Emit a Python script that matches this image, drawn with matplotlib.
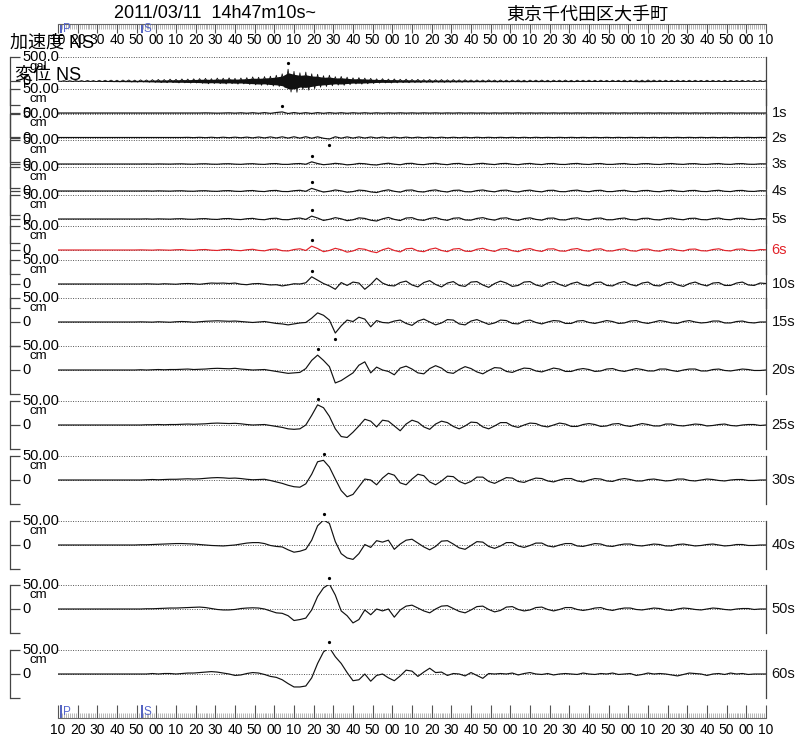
import numpy as np
import matplotlib
matplotlib.use('Agg')
import matplotlib.pyplot as plt
from matplotlib.transforms import offset_copy

plt.rcParams['font.family'] = ['Liberation Sans', 'Noto Sans CJK JP']

# 14h47m00s からの秒 (3秒ごと)
t = np.arange(10, 371, 3)

# 加速度 NS の振幅の上下 (gal)
acc_upper = [6, 8, 7, 10, 9, 12, 10, 14, 15, 18, 16, 20, 22, 18, 24, 22, 28, 32, 30, 38,
             35, 42, 40, 45, 50, 55, 48, 60, 58, 65, 55, 62, 70, 85, 78, 92, 100, 120, 150, 245,
             200, 170, 185, 150, 140, 110, 120, 90, 95, 80, 65, 70, 60, 55, 45, 48, 40, 42, 35, 38,
             32, 34, 28, 32, 26, 30, 25, 28, 24, 26, 22, 22, 20, 24, 19, 21, 18, 20, 22, 17,
             19, 18, 20, 16, 18, 17, 19, 15, 17, 16, 18, 15, 17, 14, 16, 15, 18, 16, 20, 18,
             22, 19, 17, 16, 15, 17, 14, 16, 15, 13, 15, 14, 12, 15, 13, 12, 14, 11, 12, 10, 8]
acc_lower = [-7, -8, -10, -8, -11, -10, -13, -12, -14, -17, -19, -18, -21, -23, -20, -25, -27, -33, -35, -32,
             -40, -38, -44, -42, -48, -58, -52, -55, -62, -56, -65, -60, -72, -80, -90, -85, -105, -115, -140, -230,
             -235, -180, -190, -160, -130, -115, -100, -85, -90, -75, -62, -66, -58, -52, -44, -40, -42, -38, -33, -36,
             -30, -32, -27, -30, -25, -28, -26, -24, -25, -22, -23, -20, -22, -18, -21, -19, -20, -17, -19, -20,
             -16, -18, -17, -19, -15, -17, -16, -18, -14, -16, -15, -15, -14, -16, -13, -15, -17, -15, -19, -20,
             -18, -16, -15, -14, -16, -13, -15, -14, -12, -14, -13, -13, -14, -12, -13, -11, -12, -10, -11, -9, -7]

# 変位応答 NS (cm)
disp_1s = [0, 0, 0, 0, 0, 0, 0, 0, 0, 0, 0, 0, 0, 0, 0, 0, 0, 0, 0, 0,
           0, 0, 0, 0, 0, 0.3, 0, -0.3, 0, 0.4, -0.3, 0.5, -0.5, 0.6, -0.6, 0.8, -0.7, 1.0, 2.2, -1.0,
           0.9, -0.8, 0.7, -0.9, 0.8, -0.6, 0.7, -0.5, 0.6, -0.6, 0.5, -0.4, 0.5, -0.5, 0.4, -0.4, 0.3, -0.3, 0.4, -0.3,
           0.3, -0.3, 0.3, -0.2, 0.3, -0.3, 0.2, -0.2, 0.3, -0.2, 0.2, -0.2, 0.2, -0.3, 0.2, -0.2, 0.2, -0.2, 0.3, -0.2,
           0.2, -0.2, 0.2, -0.2, 0.2, -0.2, 0.2, -0.2, 0.2, -0.2, 0.2, -0.2, 0.2, -0.2, 0.2, -0.2, 0.2, -0.2, 0.2, -0.2,
           0.2, -0.2, 0.2, -0.2, 0.2, -0.2, 0.2, -0.2, 0.2, -0.2, 0.2, -0.2, 0.2, -0.2, 0.2, -0.2, 0.1, -0.1, 0.1, -0.1, 0]
disp_2s = [0, 0, 0, 0, 0, 0, 0, 0, 0, 0, 0, 0, 0, 0, 0, 0, 0, 0, 0, 0,
           0, 0, 0.3, -0.3, 0.4, -0.4, 0.5, -0.5, 0.6, -0.5, 0.7, -0.6, 0.8, -0.8, 1.0, -0.9, 1.2, -1.0, 1.4, -1.2,
           1.5, -1.3, 1.6, -1.5, 1.4, -1.6, -3.2, 1.5, -1.4, 1.3, -1.2, 1.2, -1.1, 1.0, -1.0, 0.9, -0.9, 0.8, -0.8, 0.8,
           -0.7, 0.7, -0.7, 0.6, -0.6, 0.6, -0.6, 0.5, -0.5, 0.5, -0.5, 0.5, -0.4, 0.4, -0.4, 0.4, -0.4, 0.4, -0.4, 0.4,
           -0.4, 0.4, -0.3, 0.3, -0.3, 0.3, -0.3, 0.3, -0.3, 0.3, -0.3, 0.3, -0.3, 0.3, -0.3, 0.3, -0.3, 0.3, -0.3, 0.3,
           -0.3, 0.3, -0.3, 0.3, -0.3, 0.3, -0.3, 0.3, -0.3, 0.3, -0.3, 0.3, -0.3, 0.3, -0.3, 0.3, -0.2, 0.2, -0.2, 0.2, 0]
disp_3s = [0, 0, 0, 0, 0, 0, 0, 0, 0, 0, 0, 0, 0, 0, 0, 0.2, -0.2, 0.2, 0, -0.2,
           0.2, 0.4, -0.2, -0.4, 0.3, 0.5, -0.3, -0.5, 0.4, 0.6, -0.3, -0.7, 0.3, 0.7, -0.4, -0.8, 0.6, 0.9, -0.7, -0.8,
           0.5, 1.0, -0.5, 4.5, 1.0, -1.5, -0.3, 1.4, 0.2, -1.8, -0.8, 1.2, 0.6, -1.3, -2.1, 0.2, 1.6, -0.4, -1.6, 1.0,
           1.4, -0.8, -1.4, 0.6, 1.5, -0.4, -1.4, 0.8, 1.2, -1.0, -1.2, 0.6, 1.4, -0.2, -1.2, 0.8, 1.2, -0.6, -1.4, 0.4,
           1.2, -0.4, -1.2, 0.8, 1.0, -0.8, -1.0, 0.6, 1.2, -0.4, -1.0, 0.6, 1.0, -0.8, -0.8, 0.4, 1.0, -0.6, -1.0, 0.6,
           0.8, -0.6, -1.0, 0.4, 1.0, -0.2, -0.8, 0.6, 0.8, -0.6, -0.8, 0.4, 1.0, -0.4, -0.8, 0.6, 0.8, -0.4, -0.6, 0.4, 0.2]
disp_4s = [0, 0, 0, 0, 0, 0, 0, 0, 0, 0, 0, 0, 0, 0, 0, 0.2, -0.2, 0.3, 0, -0.3,
           0.3, 0.5, -0.3, -0.5, 0.4, 0.6, -0.4, -0.7, 0.5, 0.8, -0.5, -0.9, 0.5, 1.0, -0.6, -1.2, 0.8, 1.2, -1.0, -1.2,
           0.6, 1.5, -0.6, 5.5, 1.5, -2.2, -0.5, 2.1, 0.3, -2.6, -1.2, 1.8, 0.9, -1.9, -3.2, 0.3, 2.4, -0.6, -2.4, 1.5,
           2.1, -1.2, -2.1, 0.9, 2.2, -0.6, -2.1, 1.2, 1.8, -1.5, -1.8, 0.9, 2.1, -0.3, -1.8, 1.2, 1.8, -0.9, -2.1, 0.6,
           1.8, -0.6, -1.8, 1.2, 1.5, -1.2, -1.5, 0.9, 1.8, -0.6, -1.5, 0.9, 1.5, -1.2, -1.2, 0.6, 1.5, -0.9, -1.5, 0.9,
           1.2, -0.9, -1.5, 0.6, 1.5, -0.3, -1.2, 0.9, 1.2, -0.9, -1.2, 0.6, 1.5, -0.6, -1.2, 0.9, 1.2, -0.6, -0.9, 0.6, 0.3]
disp_5s = [0, 0, 0, 0, 0, 0, 0, 0, 0, 0, 0, 0, 0, 0, 0, 0.3, -0.3, 0.3, 0, -0.3,
           0.4, 0.6, -0.4, -0.6, 0.5, 0.8, -0.5, -0.9, 0.7, 1.0, -0.6, -1.2, 0.6, 1.3, -0.8, -1.5, 1.0, 1.6, -1.2, -1.5,
           0.8, 2.0, -0.8, 6.0, 2.0, -3.0, -0.6, 2.8, 0.4, -3.5, -1.6, 2.4, 1.2, -2.5, -4.2, 0.4, 3.2, -0.8, -3.2, 2.0,
           2.8, -1.6, -2.8, 1.2, 3.0, -0.8, -2.8, 1.6, 2.4, -2.0, -2.4, 1.2, 2.8, -0.4, -2.4, 1.6, 2.4, -1.2, -2.8, 0.8,
           2.4, -0.8, -2.4, 1.6, 2.0, -1.6, -2.0, 1.2, 2.4, -0.8, -2.0, 1.2, 2.0, -1.6, -1.6, 0.8, 2.0, -1.2, -2.0, 1.2,
           1.6, -1.2, -2.0, 0.8, 2.0, -0.4, -1.6, 1.2, 1.6, -1.2, -1.6, 0.8, 2.0, -0.8, -1.6, 1.2, 1.6, -0.8, -1.2, 0.8, 0.4]
disp_6s = [0, 0, 0, 0, 0, 0, 0, 0, 0, 0, 0, 0, 0, 0, 0.3, 0, -0.3, 0.4, 0, -0.4,
           0.5, 0.8, -0.5, -0.8, 0.6, 1.0, -0.4, -1.0, 0.8, 1.2, -0.6, -1.4, 0.5, 1.5, -0.8, -1.8, 1.2, 2.0, -1.5, -2.0,
           1.0, 2.5, -1.0, 8.0, 3.0, -3.5, -1.0, 3.5, 0.5, -4.5, -2.0, 3.0, 1.5, -3.0, -5.5, 0.5, 4.0, -1.0, -4.0, 2.5,
           3.5, -2.0, -3.5, 1.5, 4.0, -1.0, -3.5, 2.0, 3.0, -2.5, -3.0, 1.5, 3.5, -0.5, -3.0, 2.0, 3.0, -1.5, -3.5, 1.0,
           3.0, -1.0, -3.0, 2.0, 2.5, -2.0, -2.5, 1.5, 3.0, -1.0, -2.5, 1.5, 2.5, -2.0, -2.0, 1.0, 2.5, -1.5, -2.5, 1.5,
           2.0, -1.5, -2.5, 1.0, 2.5, -0.5, -2.0, 1.5, 2.0, -1.5, -2.0, 1.0, 2.5, -1.0, -2.0, 1.5, 2.0, -1.0, -1.5, 1.0, 0.5]
disp_10s = [0, 0, 0, 0, 0, 0, 0, 0, 0, 0, 0, 0, 0, 0, 0, 0.4, 0, -0.4, 0.5, 0,
            -0.5, 0.6, 1.0, 0.5, -0.6, 0.8, 2.0, 1.5, 2.0, 1.0, 2.0, -0.5, -1.5, 0.5, 1.0, -0.5, -2.0, -1.5, -4.0, -2.0,
            0.5, 0.0, 2.5, 15.0, 8.0, 1.0, -4.0, -11.0, 3.0, -3.0, 4.0, 2.0, -11.0, -1.0, 12.0, 2.0, -3.0, -4.0, 3.0, 6.0,
            -2.0, -6.0, 3.0, 7.0, -1.0, -6.0, 2.0, 5.0, -3.0, -5.0, 4.0, 5.0, -2.0, -7.0, 1.0, 6.0, 2.0, -5.0, -3.0, 4.0,
            5.0, -2.0, -5.0, 2.0, 5.0, -1.0, -5.0, 1.0, 4.0, -2.0, -4.0, 3.0, 4.0, -3.0, -4.0, 2.0, 5.0, -1.0, -4.0, 2.0,
            4.0, -3.0, -4.0, 2.0, 4.0, -2.0, -5.0, 1.0, 4.0, -1.0, -4.0, 2.0, 3.0, -3.0, -3.0, 2.0, 4.0, -2.0, -3.0, 2.0, 1.0]
disp_15s = [0, 0, 0, 0, 0, 0, 0, 0, 0, 0, 0, 0, 0, 0, 0.3, 0, -0.3, 0.5, 0, -0.5,
            0.5, 1.0, 0.5, -0.5, 0.5, 1.5, 2.0, 2.5, 2.0, 1.5, 2.0, 1.0, 0, -1.0, 0, 1.0, -1.0, -3.0, -4.0, -6.0,
            -4.0, -2.0, -1.0, 8.0, 19.0, 14.0, 4.0, -23.0, -8.0, 4.0, 1.0, 10.0, 6.0, -10.0, 3.0, -1.0, -2.0, 2.0, 4.0, -3.0,
            -7.0, 2.0, 6.0, 0.0, -6.0, -2.0, 5.0, 4.0, -4.0, -6.0, 2.0, 5.0, 0, -5.0, -2.0, 4.0, 3.0, -3.0, -4.0, 2.0,
            4.0, -1.0, -4.0, 0, 3.0, 2.0, -3.0, -3.0, 2.0, 3.0, -1.0, -3.0, 0, 3.0, 1.0, -3.0, -2.0, 2.0, 3.0, -1.0,
            -3.0, 0, 3.0, 1.0, -2.0, -3.0, 1.0, 3.0, 0, -2.0, -1.0, 2.0, 2.0, -2.0, -2.0, 1.0, 2.0, -1.0, -2.0, 0, 0]
disp_20s = [0, 0, 0, 0, 0, 0, 0, 0, 0, 0, 0, 0, 0, 0, 0.5, 0, 0.5, 1.0, 0.5, 1.0,
            1.0, 1.5, 2.0, 1.0, 1.5, 2.0, 3.0, 3.5, 3.0, 2.5, 3.5, 2.0, 1.0, 0, 0.5, 1.0, -1.0, -3.0, -5.0, -7.0,
            -6.0, -5.0, 3.0, 20.0, 31.0, 20.0, 7.0, -27.0, -22.0, -14.0, -6.0, 10.0, 17.0, -6.0, 6.0, 0, -3.0, -10.0, 4.0, 8.0,
            2.0, -6.0, -8.0, 3.0, 9.0, 4.0, -5.0, -7.0, 1.0, 7.0, 3.0, -4.0, -8.0, -1.0, 5.0, 4.0, -3.0, -5.0, 0, 4.0,
            3.0, -2.0, -4.0, 0, 4.0, 2.0, -3.0, -3.0, 1.0, 3.0, 1.0, -3.0, -2.0, 2.0, 3.0, -1.0, -3.0, 0, 3.0, 1.0,
            -2.0, -2.0, 2.0, 2.0, -1.0, -3.0, 0, 2.0, 2.0, -2.0, -2.0, 1.0, 2.0, -1.0, -2.0, 0, 2.0, 1.0, -1.0, -1.0, 0]
disp_25s = [0, 0, 0, 0, 0, 0, 0, 0, 0, 0, 0, 0, 0, 0, 0, 0.5, 0.5, 1.0, 0.5, 1.0,
            1.0, 1.5, 2.0, 1.5, 2.0, 2.5, 3.5, 4.0, 3.5, 3.0, 3.5, 2.5, 1.0, 0, 0.5, 1.0, -1.0, -3.0, -5.0, -8.0,
            -9.0, -8.0, 0, 20.0, 42.0, 36.0, 18.0, -8.0, -24.0, -26.0, -15.0, -2.0, 12.0, 8.0, -4.0, 10.0, 8.0, -2.0, -12.0, 2.0,
            10.0, 6.0, -4.0, -9.0, 2.0, 8.0, 5.0, -3.0, -8.0, -2.0, 6.0, 5.0, -4.0, -8.0, -2.0, 5.0, 5.0, -2.0, -5.0, 0,
            4.0, 3.0, -2.0, -4.0, 0, 4.0, 2.0, -3.0, -3.0, 1.0, 3.0, 1.0, -3.0, -2.0, 2.0, 3.0, -1.0, -3.0, 0, 3.0,
            1.0, -2.0, -2.0, 2.0, 2.0, -1.0, -2.0, 0, 2.0, 1.0, -2.0, -1.0, 1.0, 2.0, -1.0, -2.0, 0, 1.0, 1.0, -1.0, 0]
disp_30s = [0, 0, 0, 0, 0, 0, 0, 0, 0, 0, 0, 0, 0, 0, 0, 0.5, 1.0, 0.5, 1.0, 1.5,
            1.5, 2.0, 2.5, 2.0, 2.5, 3.5, 4.5, 5.0, 4.5, 3.5, 4.0, 3.0, 1.5, 0.5, 1.0, 1.5, -1.0, -4.0, -7.0, -11.0,
            -14.0, -15.0, -8.0, 12.0, 38.0, 41.0, 27.0, 2.0, -22.0, -35.0, -30.0, -14.0, 2.0, 0, -10.0, 4.0, 14.0, 10.0, -6.0, -10.0,
            2.0, 12.0, 9.0, -4.0, -10.0, -2.0, 8.0, 7.0, -3.0, -8.0, -3.0, 6.0, 6.0, -3.0, -7.0, -1.0, 5.0, 4.0, -3.0, -5.0,
            0, 4.0, 3.0, -2.0, -4.0, 0, 3.0, 3.0, -2.0, -4.0, 0, 3.0, 2.0, -2.0, -3.0, 1.0, 3.0, 1.0, -2.0, -2.0,
            1.0, 2.0, 0, -2.0, -1.0, 2.0, 2.0, -1.0, -2.0, 0, 2.0, 1.0, -1.0, -2.0, 0, 1.0, 1.0, -1.0, -1.0, 0, 0]
disp_40s = [0, 0, 0, 0, 0, 0, 0, 0, 0, 0, 0, 0, 0, 0, 0.5, 0.5, 1.0, 1.5, 2.0, 2.5,
            3.0, 3.0, 2.5, 2.0, 1.0, 0, -1.0, -1.5, -2.0, -1.0, 0, 2.0, 4.0, 5.0, 5.0, 3.0, -1.0, -3.0, -4.0, -10.0,
            -15.0, -13.0, -9.0, 10.0, 40.0, 52.0, 45.0, 7.0, -18.0, -27.0, -30.0, -18.0, 1.0, -5.0, 9.0, 6.0, 10.0, -9.0, 2.0, 10.0,
            12.0, 4.0, -4.0, -10.0, -3.0, 8.0, 9.0, 2.0, -6.0, -9.0, -1.0, 7.0, 6.0, -3.0, -7.0, -2.0, 5.0, 5.0, -2.0, -5.0,
            -1.0, 4.0, 4.0, -2.0, -4.0, 0, 3.0, 3.0, -2.0, -3.0, 0, 3.0, 2.0, -2.0, -3.0, 0, 2.0, 2.0, -1.0, -2.0,
            0, 2.0, 1.0, -2.0, -2.0, 1.0, 2.0, 0, -2.0, -1.0, 1.0, 2.0, 0, -2.0, -1.0, 1.0, 1.0, -1.0, -1.0, 0, 0]
disp_50s = [0, 0, 0, 0, 0, 0, 0, 0, 0, 0, 0, 0, 0, 0, 0, 0.5, 0.5, 1.0, 1.5, 2.0,
            2.0, 2.5, 3.0, 3.5, 4.0, 3.0, 1.0, -1.0, -2.0, -2.0, -1.0, 1.0, 2.0, 2.5, 2.0, 0, -4.0, -8.0, -9.0, -14.0,
            -24.0, -22.0, -19.0, -2.0, 26.0, 44.0, 52.0, 29.0, -4.0, -14.0, -29.0, -22.0, -2.0, -12.0, 0, -4.0, 0, -17.0, -2.0, 6.0,
            8.0, 2.0, -4.0, -8.0, 0, 6.0, 7.0, 1.0, -5.0, -8.0, -2.0, 5.0, 6.0, -1.0, -6.0, -3.0, 4.0, 5.0, -1.0, -4.0,
            -2.0, 3.0, 4.0, -1.0, -4.0, -1.0, 3.0, 3.0, -1.0, -3.0, -1.0, 2.0, 3.0, -1.0, -3.0, 0, 2.0, 2.0, -1.0, -2.0,
            0, 2.0, 1.0, -2.0, -3.0, 0, 2.0, 1.0, -1.0, -2.0, 0, 2.0, 1.0, -1.0, -2.0, 0, 1.0, 1.0, -1.0, 0, 0]
disp_60s = [0, 0, 0, 0, 0, 0, 0, 0, 0, 0, 0, 0, 0, 0, 0, 0, 1, 0, 1, 1,
            0, 1, 2, 2, 3, 4, 5, 4, 2, 0, -3, -2, 1, 3, 2, -1, -5, -7, -12, -20,
            -27, -27, -25, -8, 22, 46, 55, 36, 22, 3, -14, -12, 0, -15, -3, 0, -8, -14, -4, 8,
            6, -5, 4, 12, 3, 4, -3, 1, 0, -4, 3, -3, -9, 1, 0, 1, 0, 2, -2, 1,
            3, 0, -1, 1, -2, 0, 1, 0, -1, 2, 0, -1, 1, 0, 2, -1, 0, 1, -3, -1,
            2, 0, 1, 0, -2, -4, -1, 2, 1, 0, -3, 0, 1, -1, 2, 0, 1, -1, 0, 0, 0]

periods = ['1s', '2s', '3s', '4s', '5s', '6s', '10s', '15s', '20s', '25s', '30s', '40s', '50s', '60s']
traces = [disp_1s, disp_2s, disp_3s, disp_4s, disp_5s, disp_6s, disp_10s, disp_15s,
          disp_20s, disp_25s, disp_30s, disp_40s, disp_50s, disp_60s]

time_ticks = np.arange(10, 371, 10)
time_labels = ['10', '20', '30', '40', '50', '00', '10', '20', '30', '40', '50', '00',
               '10', '20', '30', '40', '50', '00', '10', '20', '30', '40', '50', '00',
               '10', '20', '30', '40', '50', '00', '10', '20', '30', '40', '50', '00', '10']
phase_names = ['P', 'S']
phase_times = [11.5, 52.5]

title = '2011/03/11  14h47m10s~'
station = '東京千代田区大手町'

# レイアウト (ピクセル)
W, H = 796, 738
X0, X1 = 58, 766
HALF = 24
acc_zero = 81
zero_px = [113, 137.5, 164, 191, 219, 250, 284, 322, 370, 425, 480, 545, 609, 674]
line_c = '#444444'

fig = plt.figure(figsize=(W / 100, H / 100), dpi=100)


def fx(px):
    return (px - X0) / (X1 - X0)


def make_panel(y0, lim, top_txt, unit, label, label_color='black'):
    ax = fig.add_axes([X0 / W, (H - y0 - HALF) / H, (X1 - X0) / W, 2 * HALF / H])
    ax.set_facecolor('none')
    ax.set_xlim(10, 370)
    ax.set_ylim(-lim, lim)
    for s in ['top', 'bottom']:
        ax.spines[s].set_visible(False)
    ax.spines['left'].set_position(('axes', fx(10)))
    for s in ['left', 'right']:
        ax.spines[s].set_color(line_c)
        ax.spines[s].set_linewidth(0.9)
    ax.set_xticks([])
    ax.set_yticks([-lim, 0, lim])
    ax.tick_params(axis='y', direction='in', length=7.2, width=0.9, color=line_c, labelleft=False)
    for y in (-lim, 0, lim):
        ax.axhline(y, color='#555555', lw=0.7, ls=(0, (1, 1.5)), zorder=1)
    tr = ax.get_yaxis_transform()
    ax.text(fx(22), lim, top_txt, transform=tr, ha='left', va='center', fontsize=10.5)
    ax.annotate(unit, xy=(fx(38), lim), xycoords=tr, xytext=(0, -7), textcoords='offset points',
                ha='center', va='center', fontsize=9.5)
    ax.text(fx(22), 0, '0', transform=tr, ha='left', va='center', fontsize=10.5)
    if label:
        ax.text(1.008, 0, label, transform=tr, ha='left', va='center', fontsize=10.5, color=label_color)
    return ax


def peak_dot(ax, x, y, sgn):
    tr = offset_copy(ax.transData, fig=fig, x=0, y=sgn * 6, units='dots')
    ax.plot([x], [y], 'o', ms=1.3, color='black', transform=tr, clip_on=False, zorder=4)


# 加速度 (上下の振幅を交互につないで波形らしく描く)
ax = make_panel(acc_zero, 500, '500.0', 'gal', None)
acc_x = np.column_stack([t, t + 1.5]).ravel()
acc_y = np.column_stack([acc_upper, acc_lower]).ravel()
ax.plot(acc_x, acc_y, color='#111111', lw=0.6, zorder=3)
ax.fill_between(t, np.array(acc_lower) * 0.7, np.array(acc_upper) * 0.7, color='#111111', lw=0, zorder=3)
k = int(np.argmax(acc_upper))
peak_dot(ax, t[k], acc_upper[k], 1)

# 変位
for y0, name, v in zip(zero_px, periods, traces):
    col = '#e2232a' if name == '6s' else '#111111'
    ax = make_panel(y0, 50, '50.00', 'cm', name, label_color=col)
    v = np.array(v, dtype=float)
    ax.plot(t, v, color=col, lw=0.85, zorder=3)
    k = int(np.argmax(np.abs(v)))
    peak_dot(ax, t[k], v[k], 1 if v[k] >= 0 else -1)


# 時刻目盛り
def ruler(y_top, y_bot, side, major_len, pad):
    rx = fig.add_axes([X0 / W, (H - y_bot) / H, (X1 - X0) / W, (y_bot - y_top) / H])
    rx.set_facecolor('none')
    rx.set_xlim(10, 370)
    rx.set_ylim(0, 1)
    rx.set_yticks([])
    for s in ['left', 'right', 'top', 'bottom']:
        rx.spines[s].set_visible(s == side)
    rx.spines[side].set_color('#666666')
    rx.set_xticks(time_ticks)
    rx.set_xticklabels(time_labels)
    rx.set_xticks(np.arange(10, 371, 1), minor=True)
    on_top = side == 'top'
    rx.tick_params(axis='x', which='major', top=on_top, bottom=not on_top, labeltop=False,
                   labelbottom=True, direction='in', length=major_len, width=0.8,
                   color='#555555', labelsize=10, pad=pad)
    rx.tick_params(axis='x', which='minor', top=on_top, bottom=not on_top, direction='in',
                   length=3.6, width=0.5, color='#9a9a9a')
    for name, pt in zip(phase_names, phase_times):
        rx.axvline(pt, color='#4455bb', lw=1.3)
        rx.annotate(name, xy=(pt, 0.45), xycoords=rx.get_xaxis_transform(), xytext=(1.5, 0),
                    textcoords='offset points', ha='left', va='center', fontsize=8.5, color='#5566cc')
    return rx


ruler(24, 33, 'top', 6.5, 0.3)
ruler(705, 718, 'bottom', 9.4, 3.5)

fig.text(215 / W, 1 - 14 / H, title, ha='center', va='center', fontsize=13)
fig.text(587 / W, 1 - 15 / H, station, ha='center', va='center', fontsize=13)
fig.text(10 / W, 1 - 43 / H, '加速度 NS', ha='left', va='center', fontsize=13)
fig.text(15 / W, 1 - 75 / H, '変位 NS', ha='left', va='center', fontsize=13)

fig.savefig('out.png', dpi=100, facecolor='white')
